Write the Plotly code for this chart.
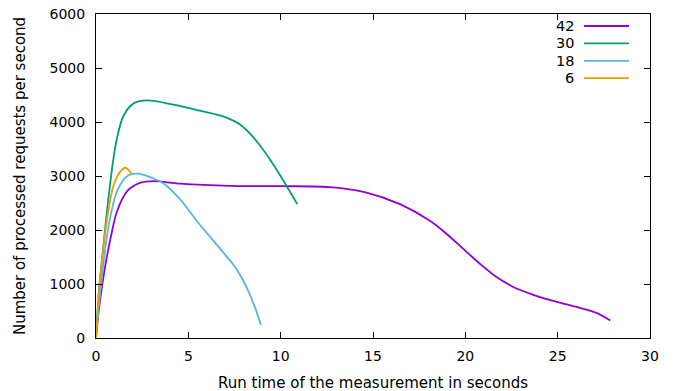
import plotly.graph_objects as go

# Series data (x: seconds, y: requests/s)
x42 = [0, 0.07, 0.43, 0.8, 1.15, 1.7, 2.42, 3.14, 4.55, 7.26, 9.96, 12.85, 14.65, 16.46, 18.08, 18.99, 19.89, 20.79, 21.69, 22.6, 23.5, 24.4, 25.3, 26.2, 27.1, 27.85]
y42 = [0, 270, 1190, 1865, 2356, 2724, 2877, 2905, 2858, 2816, 2812, 2790, 2693, 2479, 2172, 1927, 1651, 1375, 1128, 945, 823, 718, 638, 558, 466, 325]

x30 = [0, 0.16, 0.34, 0.52, 0.72, 0.95, 1.18, 1.52, 2.06, 2.78, 4.19, 5.63, 6.89, 7.8, 8.7, 9.6, 10.9]
y30 = [0, 883, 1497, 2110, 2724, 3337, 3767, 4135, 4349, 4399, 4320, 4209, 4104, 3952, 3644, 3215, 2480]

x18 = [0, 0.34, 0.7, 1.15, 1.7, 2.24, 3.14, 3.68, 4.55, 5.45, 6.35, 7.0, 7.5, 7.9, 8.3, 8.65, 8.93]
y18 = [0, 1190, 2110, 2724, 3000, 3043, 2950, 2858, 2571, 2172, 1804, 1540, 1330, 1110, 830, 530, 240]

x6 = [0, 0.25, 0.61, 0.97, 1.34, 1.6, 1.93]
y6 = [0, 1190, 2233, 2847, 3092, 3153, 3040]

series = [
    ("42", x42, y42, "#9400d3"),
    ("30", x30, y30, "#009e73"),
    ("18", x18, y18, "#56b4e9"),
    ("6", x6, y6, "#e69f00"),
]

x_ticks = [0, 5, 10, 15, 20, 25, 30]
y_ticks = [0, 1000, 2000, 3000, 4000, 5000, 6000]

FONT = "DejaVu Sans"
PLOT_TOP = 14      # page pixel of the plot box top
PLOT_H = 338 - PLOT_TOP

fig = go.Figure()
for name, xs, ys, col in series:
    fig.add_trace(go.Scatter(x=xs, y=ys, mode="lines", name=name,
                             line=dict(color=col, width=1.8, shape="spline", smoothing=1.0),
                             showlegend=False))

# manual gnuplot-style key (text right-aligned, sample on the right)
for i, (name, xs, ys, col) in enumerate(series):
    yk = 1 - (26 - PLOT_TOP + i * 17.4) / PLOT_H
    fig.add_annotation(xref="paper", yref="paper", x=(574 - 96) / 554, y=yk,
                       text=name, showarrow=False, xanchor="right", yanchor="middle",
                       xshift=2, font=dict(family=FONT, size=14.5, color="black"))
    fig.add_shape(type="line", xref="paper", yref="paper",
                  x0=(584 - 96) / 554, x1=(629 - 96) / 554, y0=yk, y1=yk,
                  line=dict(color=col, width=1.8))

axis_common = dict(showline=True, linecolor="black", linewidth=1, mirror="ticks",
                   ticks="inside", ticklen=6, tickcolor="black", showgrid=False,
                   zeroline=False, automargin=False, ticklabeloverflow="allow",
                   tickfont=dict(family=FONT, size=14, color="black"))

fig.update_xaxes(range=[0, 30], tickvals=x_ticks, ticktext=[str(v) for v in x_ticks],
                 ticklabelstandoff=5,
                 title=dict(text="Run time of the measurement in seconds",
                            font=dict(family=FONT, size=15, color="black"), standoff=14),
                 **axis_common)
fig.update_yaxes(range=[0, 6000], tickvals=y_ticks, ticktext=[str(v) for v in y_ticks],
                 ticklabelstandoff=7,
                 title=dict(text="Number of processed requests per second",
                            font=dict(family=FONT, size=15, color="black"), standoff=20),
                 **axis_common)

# the page body adds an 8px offset; margins compensate so the plot box sits at 96..650 x 14..338
fig.update_layout(width=682, height=391, margin=dict(l=88, r=40, t=PLOT_TOP - 8, b=61),
                  plot_bgcolor="white", paper_bgcolor="white",
                  font=dict(family=FONT, size=14, color="black"))
fig.write_html("out.html")
